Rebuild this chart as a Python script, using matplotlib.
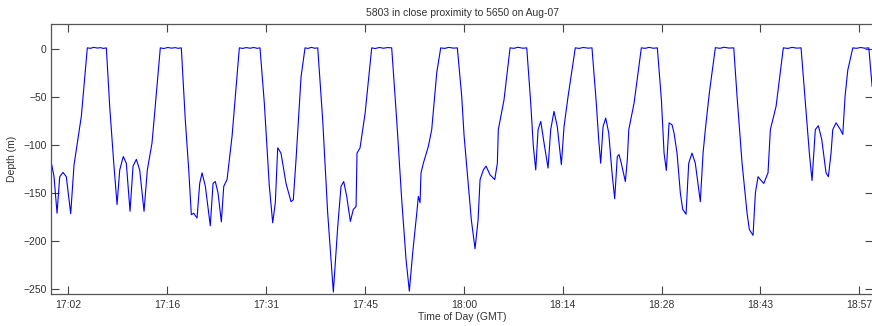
import matplotlib
matplotlib.use("Agg")
import matplotlib.pyplot as plt
import numpy as np

# Time in minutes after 17:00 GMT, depth in metres
minutes = [
    0.0, 0.32, 0.76, 1.15, 1.63, 2.11, 2.75, 3.23, 4.30,
    5.17, 5.6, 6.1, 6.6, 7.1, 7.5, 7.94,
    8.43, 9.02, 9.50, 9.89, 10.41, 10.85, 11.39, 11.83, 12.31, 12.80, 13.43, 13.91, 14.59, 14.89,
    15.80, 16.3, 16.9, 17.4, 18.0, 18.4, 18.86,
    19.44, 19.94, 20.32, 20.66, 21.15, 21.54, 21.88, 22.36, 23.08, 23.48, 23.81, 24.21, 24.69, 25.04, 25.52, 26.25,
    27.31, 27.8, 28.3, 28.9, 29.4, 29.9, 30.32,
    30.95, 31.68, 32.17, 32.55, 32.90, 33.38, 34.11, 34.84, 35.17, 35.57, 36.30,
    36.88, 37.3, 37.8, 38.3, 38.73,
    39.45, 40.18, 41.00, 41.64, 42.12, 42.51, 42.95, 43.48, 43.91, 44.31, 44.45, 44.89, 45.63,
    46.59, 47.1, 47.7, 48.3, 48.9, 49.50,
    50.23, 50.96, 51.59, 52.07, 52.56, 53.15, 53.38, 53.63, 53.77, 54.11, 54.84, 55.33, 56.06,
    56.64, 57.2, 57.8, 58.5, 59.06,
    59.70, 60.04, 60.52, 61.10, 61.64, 62.08, 62.37, 62.85, 63.24, 63.82, 64.51, 64.89, 65.03, 65.86,
    66.74, 67.3, 67.9, 68.6, 69.17,
    69.75, 70.13, 70.48, 70.82, 71.21, 71.69, 72.27, 72.66, 73.14, 73.62, 74.21, 74.60, 75.18,
    76.24, 76.8, 77.4, 78.1, 78.67,
    79.30, 79.65, 79.94, 80.28, 80.67, 81.11, 81.59, 81.98, 82.36, 82.61, 82.94, 83.53, 83.82, 84.03, 84.80,
    85.86, 86.4, 87.0, 87.6, 88.19,
    88.78, 89.17, 89.50, 89.90, 90.33, 90.62, 91.06, 91.54, 91.89, 92.37, 92.76, 93.24, 93.72, 94.45, 94.85, 95.18, 95.76,
    96.64, 97.3, 97.9, 98.6, 99.32,
    99.80, 100.53, 101.26, 101.59, 102.13, 102.47, 102.86, 103.19, 103.69, 104.31, 104.65, 105.48,
    106.54, 107.2, 107.8, 108.5, 109.12,
    109.75, 110.33, 110.72, 111.20, 111.64, 112.14, 112.76, 113.10, 113.49, 113.74, 114.22, 114.85, 115.20, 115.53, 115.93,
    116.66, 117.2, 117.8, 118.4, 118.99,
    119.47,
]
depth = [
    -121, -133, -171, -133, -128.5, -133, -171.5, -121, -70,
    1, 0.5, 1.5, 0.8, 1.2, 0.4, 1,
    -60, -119, -162, -126, -112, -119, -169, -122, -115, -126, -169, -126, -98, -74,
    1, 0.3, 1.4, 0.7, 1.2, 0.5, 1,
    -74, -126, -172.5, -171, -176, -140, -129, -143, -184, -140, -138, -150, -180, -143, -136, -91,
    1, 0.4, 1.3, 0.6, 1.4, 0.5, 1,
    -56.5, -143, -181, -160, -103, -108.5, -140, -159, -157, -115, -29,
    1, 0.4, 1.5, 0.6, 1,
    -74, -171, -253, -185, -143, -138, -153.5, -179.5, -167, -164, -108.5, -103, -67,
    1, 0.3, 1.4, 0.6, 1.3, 1,
    -74, -157, -219, -252, -212, -171, -153.5, -160, -129, -119, -101.5, -84, -25,
    1, 0.4, 1.5, 0.7, 1,
    -49.5, -90, -130, -178, -208, -178, -136, -126, -122, -131, -136, -119, -84, -53,
    1, 0.5, 1.6, 0.6, 1,
    -56.5, -101.5, -126, -84, -75.5, -98, -124, -84, -65, -81, -120.5, -81, -50,
    1, 0.4, 1.4, 0.7, 1,
    -56.5, -94.5, -119, -81, -72, -87.5, -129, -156, -112, -110, -119, -138, -115, -84, -56.5,
    1, 0.5, 1.5, 0.6, 1,
    -53, -108.5, -126.5, -77, -79, -87.5, -108.5, -150, -167, -172, -119, -108.5, -119, -159, -108.5, -84, -46,
    1.2, 0.5, 1.6, 0.8, 1,
    -49.5, -119, -171, -188, -194, -150, -133, -136, -140, -129, -84, -60,
    1, 0.4, 1.5, 0.7, 1,
    -56.5, -108.5, -137, -84, -80, -94.5, -129, -133, -108.5, -84, -77, -84, -89, -49.5, -22,
    1, 0.5, 1.4, 0.6, 1,
    -39,
]

# Tick positions: fractions of a day 0.71 ... 0.79, in minutes after 17:00
tick_day_fracs = [0.71, 0.72, 0.73, 0.74, 0.75, 0.76, 0.77, 0.78, 0.79]
tick_labels = ["17:02", "17:16", "17:31", "17:45", "18:00", "18:14", "18:28", "18:43", "18:57"]
y_ticks = [-250, -200, -150, -100, -50, 0]

title = "5803 in close proximity to 5650 on Aug-07"
xlabel = "Time of Day (GMT)"
ylabel = "Depth (m)"

W, H = 872, 326
fig = plt.figure(figsize=(W / 100, H / 100), dpi=100)
left, right, bottom, top = 51, 873, 294, 24.3
ax = fig.add_axes([left / W, 1 - bottom / H, (right - left) / W, (bottom - top) / H])

ax.plot(minutes, depth, color=(0, 0, 1), lw=0.8, solid_joinstyle="round")

tick_pos = [f * 1440 - 1020 for f in tick_day_fracs]
ax.set_xticks(tick_pos)
ax.set_xticklabels(tick_labels)
ax.set_yticks(y_ticks)
ax.set_xlim(-0.12, 119.6)
ax.set_ylim(-255, 25.5)

font = dict(family=["Liberation Sans", "DejaVu Sans"], size=7.5, color="#333333")
for lab in ax.get_xticklabels() + ax.get_yticklabels():
    lab.set_fontfamily(font["family"])
    lab.set_fontsize(font["size"])
    lab.set_color(font["color"])

ax.tick_params(direction="in", length=6, width=0.8, color="#444444",
               top=True, right=True, pad=4)
ax.tick_params(axis="y", pad=3)
for s in ax.spines.values():
    s.set_color("#555555")
    s.set_linewidth(0.9)

ax.set_title(title, fontdict=font, pad=6)
ax.set_xlabel(xlabel, fontdict=font, labelpad=2)
ax.set_ylabel(ylabel, fontdict=font, labelpad=5)

fig.savefig("out.png", dpi=100)
